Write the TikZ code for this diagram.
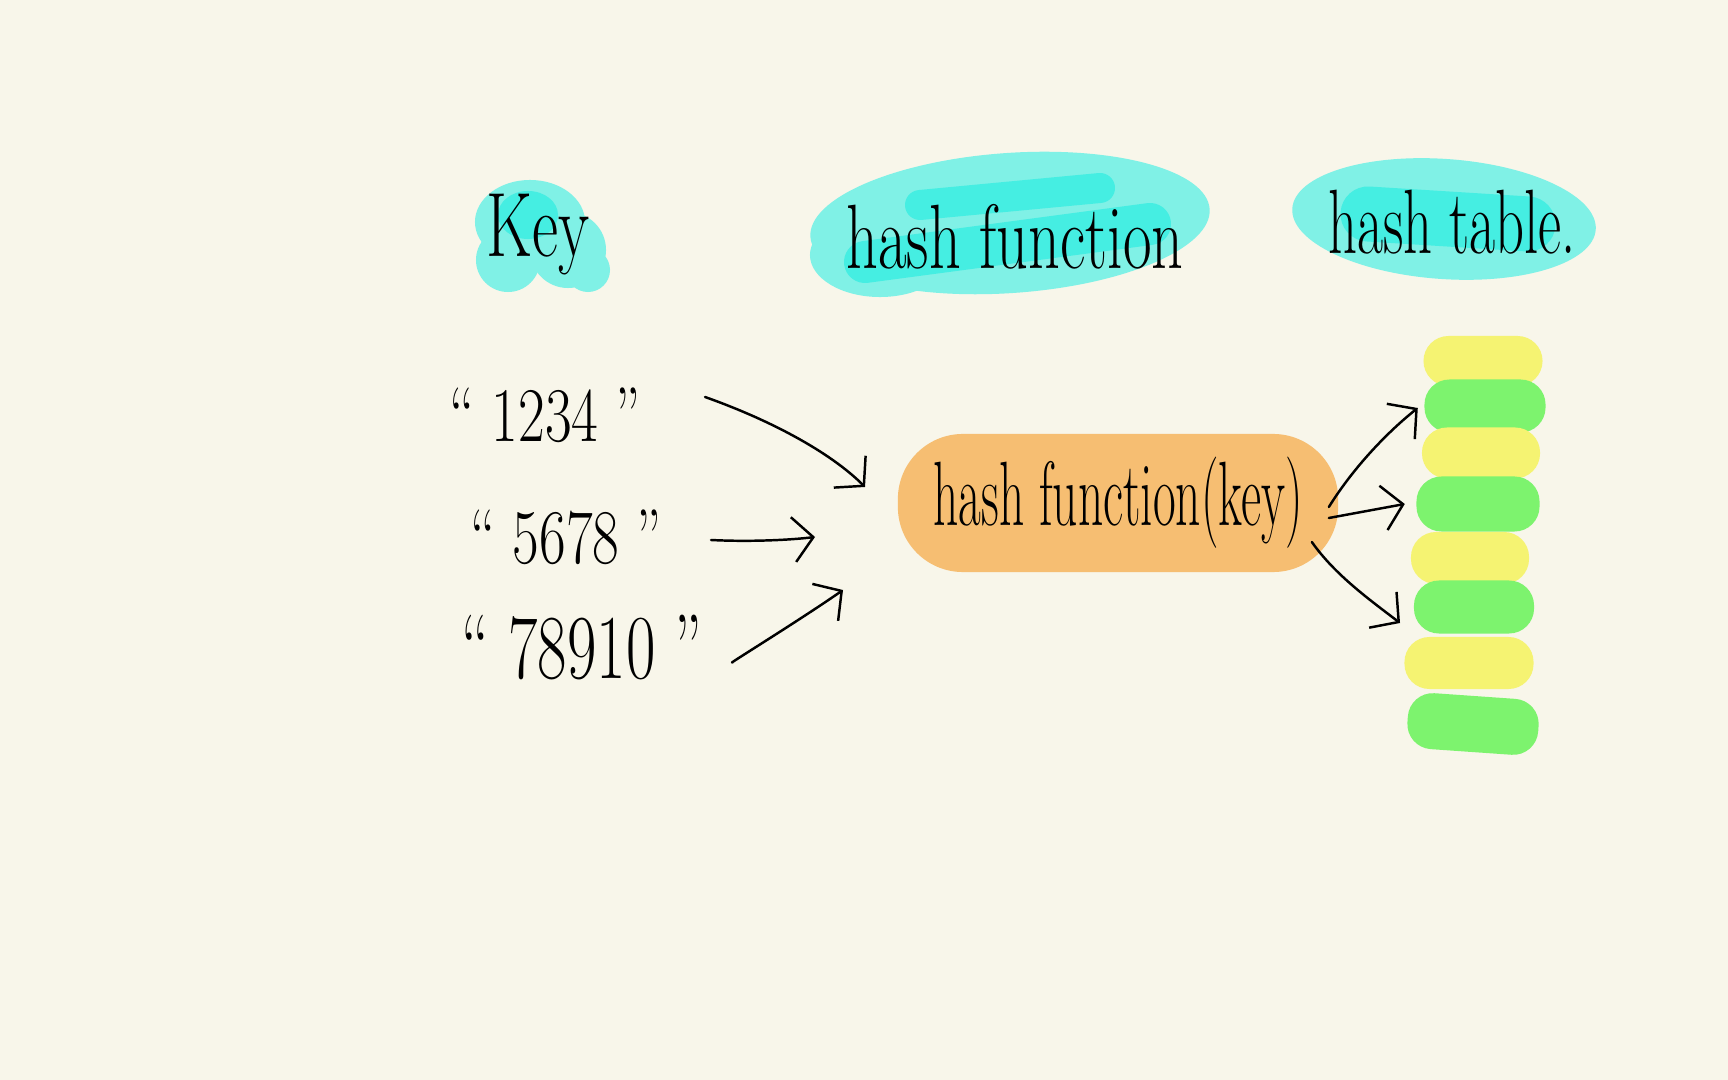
\documentclass[tikz,border=0pt]{standalone}
\usetikzlibrary{arrows.meta,calc}
\definecolor{bgc}{HTML}{F8F6EA}
\definecolor{cyanL}{HTML}{80F1E6}
\definecolor{cyanD}{HTML}{45EEE2}
\definecolor{orangeF}{HTML}{F6BE72}
\definecolor{yel}{HTML}{F5F372}
\definecolor{grn}{HTML}{7DF36E}
\begin{document}
\begin{tikzpicture}[x=0.01cm,y=-0.01cm,
  arr/.style={line width=0.7pt, line cap=round, line join=round, -{Straight Barb[length=0.2cm,width=0.45cm]}},
  hand/.style={font=\fontsize{26}{30}\selectfont, text=black, inner sep=0pt},
  cell/.style={rounded corners=0.25cm, inner sep=0pt}
]
\fill[bgc] (0,0) rectangle (1728,1080);
\useasboundingbox (0,0) rectangle (1728,1080);

% Key blob
\fill[cyanL] (530,222) ellipse [x radius=0.55cm, y radius=0.42cm];
\fill[cyanL] (568,250) circle [radius=0.38cm];
\fill[cyanL] (588,270) circle [radius=0.22cm];
\fill[cyanL] (508,260) circle [radius=0.32cm];
\fill[cyanD] (528,215) ellipse [x radius=0.3cm, y radius=0.24cm];

% hash function blob
\fill[cyanL, rotate around={4:(1010,223)}] (1010,223) ellipse [x radius=2cm, y radius=0.7cm];
\fill[cyanL] (880,255) ellipse [x radius=0.7cm, y radius=0.42cm];
\draw[cyanD, line width=0.42cm, line cap=round] (865,262) -- (1150,224);
\draw[cyanD, line width=0.3cm, line cap=round] (920,205) -- (1100,188);

% hash table blob
\fill[cyanL, rotate around={-4:(1444,219)}] (1444,219) ellipse [x radius=1.52cm, y radius=0.6cm];
\draw[cyanD, line width=0.55cm, line cap=round] (1368,214) -- (1528,224);

% headers
\node[hand] (key) at (538,235) {\scalebox{0.7}[1]{Key}};
\node[hand] (hf) at (1015,237) {\scalebox{0.68}[1]{hash function}};
\node[hand] (ht) at (1452,222) {\scalebox{0.62}[1]{hash table.}};

% keys
\node[hand, font=\fontsize{22}{26}\selectfont] (k1) at (545,415) {\scalebox{0.75}[1]{`` 1234 ''}};
\node[hand, font=\fontsize{22}{26}\selectfont] (k2) at (566,537) {\scalebox{0.75}[1]{`` 5678 ''}};
\node[hand, font=\fontsize{26}{30}\selectfont] (k3) at (582,648) {\scalebox{0.7}[1]{`` 78910 ''}};

% hash function(key)
\node[hand, fill=orangeF, rounded corners=0.65cm, minimum width=4.4cm, minimum height=1.38cm] (hfk) at (1118,503) {\scalebox{0.54}[1]{hash function(key)}};

% hash table cells
\node[cell, fill=yel, minimum width=1.19cm, minimum height=0.5cm] (c1) at (1483,361) {};
\node[cell, fill=grn, minimum width=1.21cm, minimum height=0.53cm] (c2) at (1485,406) {};
\node[cell, fill=yel, minimum width=1.18cm, minimum height=0.51cm] (c3) at (1481,453) {};
\node[cell, fill=grn, minimum width=1.23cm, minimum height=0.55cm] (c4) at (1478,504) {};
\node[cell, fill=yel, minimum width=1.18cm, minimum height=0.52cm] (c5) at (1470,558) {};
\node[cell, fill=grn, minimum width=1.2cm, minimum height=0.53cm] (c6) at (1474,607) {};
\node[cell, fill=yel, minimum width=1.29cm, minimum height=0.52cm] (c7) at (1469,663) {};
\node[cell, fill=grn, minimum width=1.31cm, minimum height=0.56cm, rotate=-4] (c8) at (1473,724) {};

% input arrows
\coordinate (s1) at (705,397);
\coordinate (t1) at (865,487);
\coordinate (s2) at (711,540);
\coordinate (t2) at (815,537);
\coordinate (s3) at (733,662);
\coordinate (t3) at (843,590);
\draw[arr] (s1) .. controls (770,420) and (830,452) .. (t1);
\draw[arr] (s2) .. controls (750,542) and (790,540) .. (t2);
\draw[arr] (s3) .. controls (722,668) and (800,620) .. (t3);

% output arrows
\coordinate (t6) at (1400,623);
\draw[arr] ($(hfk.east)+(-10,4)$) .. controls (1355,465) and (1390,430) .. ($(c2.west)+(-6,2)$);
\draw[arr] ($(hfk.east)+(-10,15)$) -- ($(c4.west)+(-11,0)$);
\draw[arr] ($(hfk.east)+(-27,39)$) .. controls (1335,575) and (1370,600) .. (t6);
\end{tikzpicture}
\end{document}
